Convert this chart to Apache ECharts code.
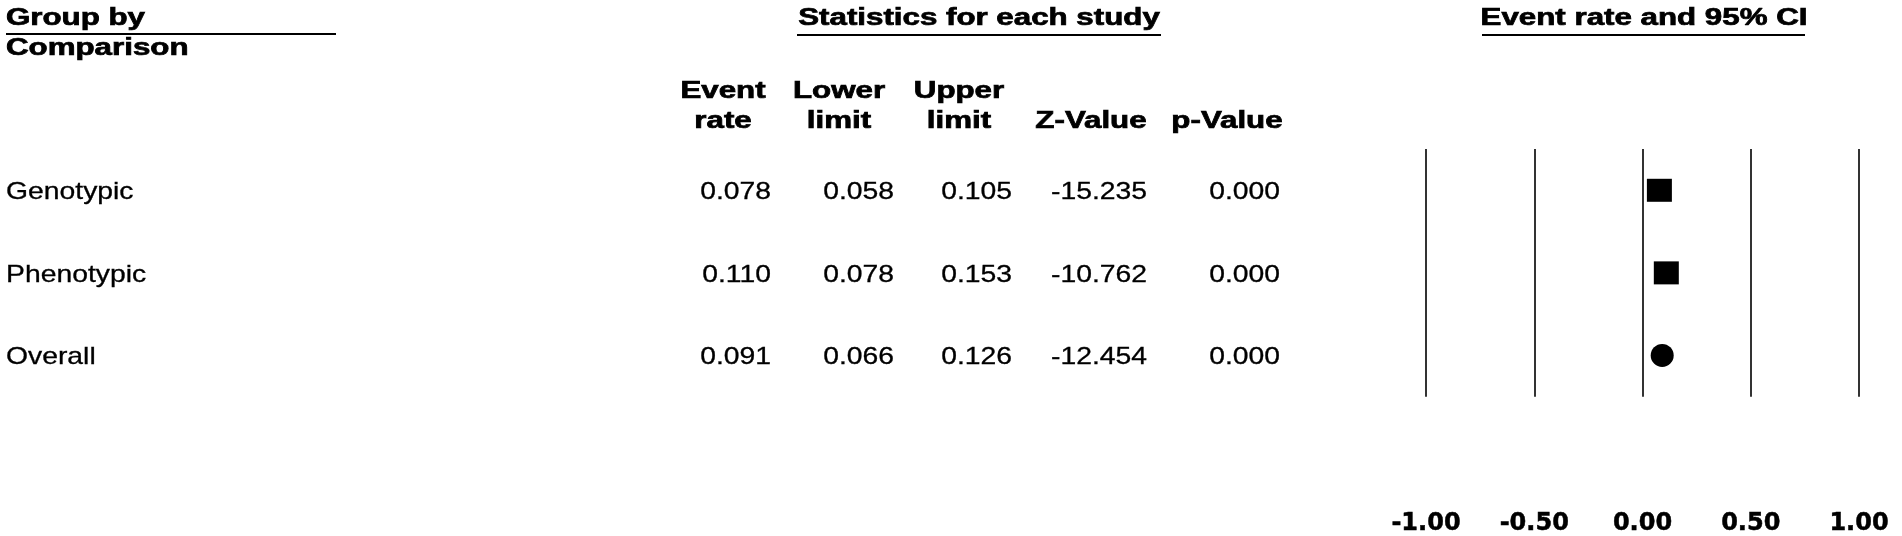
<!DOCTYPE html>
<html>
<head>
<meta charset="utf-8">
<title>Event rate and 95% CI</title>
<script src="https://cdn.jsdelivr.net/npm/echarts@6/dist/echarts.min.js"></script>
<style>
  html, body { margin: 0; padding: 0; background: #fff; }
  #main { width: 1902px; height: 536px; }
</style>
</head>
<body>
<div id="main"></div>
<script>
// rows of the forest plot
var groups = ['Genotypic', 'Phenotypic', 'Overall'];
var eventRate = [0.078, 0.110, 0.091];
var lowerLimit = [0.058, 0.078, 0.066];
var upperLimit = [0.105, 0.153, 0.126];
var zValue = [-15.235, -10.762, -12.454];
var pValue = [0.000, 0.000, 0.000];
var markerShape = ['rect', 'rect', 'circle'];
// x axis tick labels
var tickLabels = ['-1.00', '-0.50', '0.00', '0.50', '1.00'];
// table headings (two lines each)
var colHeads = [['Event', 'rate'], ['Lower', 'limit'], ['Upper', 'limit'], ['', 'Z-Value'], ['', 'p-Value']];

var chart = echarts.init(document.getElementById('main'));

var boldFont = { fontFamily: 'Liberation Sans', fontWeight: 'bold', fontSize: 23, sx: 1.36, stroke: 0.7 };
var normFont = { fontFamily: 'Liberation Sans', fontWeight: 'normal', fontSize: 24, sx: 1.18, stroke: 0.3 };

function txt(x, y, s, f, align) {
  return {
    type: 'text', x: x, y: y, scaleX: f.sx, silent: true,
    style: {
      text: s, fill: '#000', stroke: '#000', lineWidth: f.stroke,
      fontFamily: f.fontFamily, fontWeight: f.fontWeight, fontSize: f.fontSize,
      align: align, textAlign: align, verticalAlign: 'middle', textVerticalAlign: 'middle'
    }
  };
}
function hline(x1, x2, y) {
  return { type: 'line', silent: true, shape: { x1: x1, y1: y, x2: x2, y2: y }, style: { stroke: '#000', lineWidth: 2 } };
}

var option = {
  backgroundColor: '#fff',
  animation: false,
  grid: { left: 1426, right: 43, top: 149, height: 249 },
  xAxis: {
    type: 'value', min: -1, max: 1, interval: 0.5,
    axisLine: { show: false },
    axisTick: { show: false },
    splitLine: { show: true, lineStyle: { color: '#333', width: 2 } },
    axisLabel: {
      margin: 115, color: '#000', fontSize: 24, fontWeight: 'bold', fontFamily: 'DejaVu Sans',
      textBorderColor: '#000', textBorderWidth: 0.5,
      formatter: function (v, i) { return tickLabels[i]; }
    }
  },
  yAxis: {
    type: 'category', data: groups, inverse: true, show: false
  },
  series: [
    {
      // 95% CI
      type: 'custom',
      z: 1,
      renderItem: function (params, api) {
        var a = api.coord([api.value(0), api.value(2)]);
        var b = api.coord([api.value(1), api.value(2)]);
        return { type: 'line', shape: { x1: a[0], y1: a[1], x2: b[0], y2: b[1] }, style: { stroke: '#000', lineWidth: 2 } };
      },
      encode: { x: [0, 1], y: 2 },
      data: groups.map(function (g, i) { return [lowerLimit[i], upperLimit[i], i]; })
    },
    {
      type: 'scatter',
      z: 3,
      itemStyle: { color: '#000', opacity: 1 },
      data: groups.map(function (g, i) {
        return {
          value: [eventRate[i], g],
          symbol: markerShape[i],
          symbolSize: markerShape[i] === 'circle' ? 23 : [25, 23]
        };
      })
    }
  ]
};
chart.setOption(option);

// table part, rows lined up with the category axis
var colRight = [771, 894, 1012, 1147, 1280];
var colCenter = [723, 839, 959, 1091, 1227];
var els = [
  txt(6, 19, 'Group by', boldFont, 'left'),
  hline(6, 336, 34),
  txt(6, 49, 'Comparison', boldFont, 'left'),
  txt(979, 19, 'Statistics for each study', boldFont, 'center'),
  hline(797, 1161, 35),
  txt(1644, 19, 'Event rate and 95% CI', boldFont, 'center'),
  hline(1482, 1805, 35)
];
colHeads.forEach(function (h, c) {
  if (h[0]) els.push(txt(colCenter[c], 92, h[0], boldFont, 'center'));
  els.push(txt(colCenter[c], 122, h[1], boldFont, 'center'));
});
groups.forEach(function (g, i) {
  var y = chart.convertToPixel({ yAxisIndex: 0 }, g) + 2;
  els.push(txt(6, y, g, normFont, 'left'));
  var vals = [eventRate[i], lowerLimit[i], upperLimit[i], zValue[i], pValue[i]];
  vals.forEach(function (v, c) {
    els.push(txt(colRight[c], y, v.toFixed(3), normFont, 'right'));
  });
});
chart.setOption({ graphic: { elements: els } });
</script>
</body>
</html>
